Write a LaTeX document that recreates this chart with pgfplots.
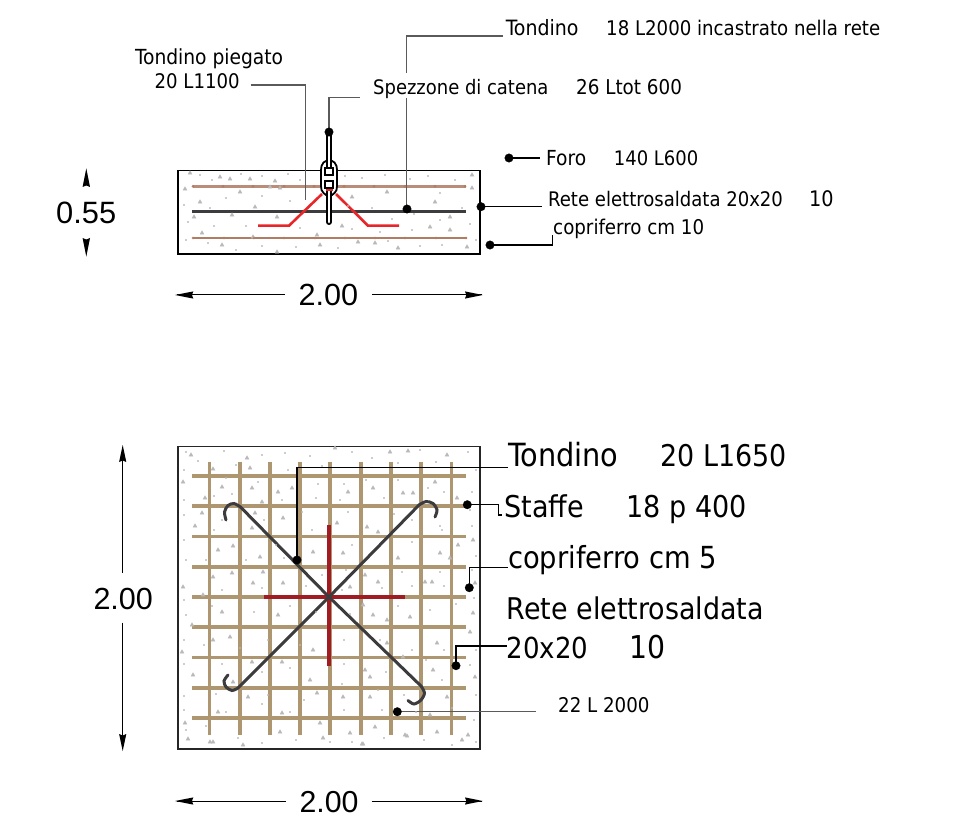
\documentclass[border=0pt]{standalone}
\usepackage{graphicx}
\usepackage{fontspec}
\setmainfont{DejaVu Sans Condensed}
\newfontfamily\dimfont{Liberation Sans}
\usepackage{pgfplots}
\pgfplotsset{compat=1.18}
\definecolor{meshtan}{RGB}{174,150,112}
\definecolor{darkbar}{RGB}{60,60,62}
\definecolor{darkred}{RGB}{160,28,34}
\definecolor{brightred}{RGB}{232,38,42}
\definecolor{pinkbar}{RGB}{186,140,122}
\definecolor{pinkbarb}{RGB}{176,124,100}
\definecolor{specklecol}{RGB}{185,185,185}
\definecolor{lead}{RGB}{90,90,90}

% label: x, baseline y, width in px, text
\newcommand{\lab}[4]{\node[anchor=base west,inner sep=0pt,text=black] at (axis cs:#1,#2) {\resizebox{#3pt}{!}{#4}};}
\newcommand{\dimlab}[4]{\node[anchor=base west,inner sep=0pt,text=black] at (axis cs:#1,#2) {\resizebox{#3pt}{!}{\dimfont #4}};}

\pgfplotstableread{
x y
190 173
220 177
230 179
250 179
275 181
240 192
270 187
280 188
185 189
200 202
255 207
232 215
194 217
352 197
387 192
435 202
450 217
472 175
472 188
277 217
202 233
222 245
253 237
317 235
358 242
375 243
398 248
450 230
467 247
277 252
342 226
320 245
430 227
}\trianglestop

\pgfplotstableread{
x y
200 175
212 180
241 174
262 176
288 174
300 180
345 176
362 178
385 175
410 179
428 176
455 180
184 205
210 208
226 198
262 196
290 201
348 206
372 208
392 219
414 214
440 193
462 208
188 222
214 226
246 226
300 228
352 229
380 232
412 230
440 220
470 224
186 240
208 243
236 250
262 246
296 247
338 248
388 241
420 246
442 245
476 240
}\dotstop

\pgfplotstableread{
x y
191 455
213 469
247 458
250 468
183 482
222 487
252 488
278 492
205 498
262 502
292 488
202 513
255 513
195 526
252 528
283 518
218 550
233 546
260 557
263 572
232 573
313 552
183 587
213 577
203 595
253 583
283 583
335 448
408 451
390 452
447 455
373 488
348 492
403 493
413 493
435 482
457 498
337 523
378 532
367 527
458 545
473 540
343 553
398 558
440 553
365 575
378 582
350 587
425 582
432 582
475 583
450 558
192 625
222 612
230 637
213 640
278 615
282 662
313 650
193 675
233 682
252 662
310 680
182 652
248 697
317 693
218 712
185 723
282 713
320 723
210 742
280 732
323 738
243 745
363 605
387 620
410 617
473 613
470 632
373 615
387 643
437 643
403 657
433 670
365 670
370 677
475 677
343 697
370 697
447 697
430 715
375 727
350 733
437 732
468 735
362 744
405 735
188 739
213 742
363 744
407 736
462 740
}\trianglesbot

\pgfplotstableread{
x y
186 452
198 461
224 451
236 465
262 455
285 453
310 456
322 466
352 452
372 458
398 463
420 450
436 462
468 452
476 470
184 470
226 478
258 482
288 470
318 484
344 484
366 480
398 480
428 488
472 492
184 500
214 496
232 494
282 500
316 498
340 500
384 498
444 492
470 510
184 515
222 520
264 520
302 512
348 512
394 514
412 520
440 526
472 526
184 540
214 530
276 545
312 530
352 545
412 542
442 530
476 556
186 560
206 560
246 560
284 558
322 575
346 570
402 572
440 572
472 570
184 600
222 590
262 588
306 586
342 590
382 588
412 586
444 586
474 598
186 615
212 606
254 612
290 606
316 612
350 614
398 606
430 610
456 604
184 640
204 645
240 648
268 640
300 645
344 640
380 640
412 650
444 650
476 650
184 664
222 664
262 672
290 668
344 664
386 672
426 660
470 665
184 696
216 694
268 695
304 700
342 684
378 690
404 695
442 680
476 695
184 710
226 712
262 704
290 712
344 710
382 710
416 712
452 708
474 720
186 730
206 726
238 738
262 743
296 740
330 742
352 742
384 738
424 740
452 745
476 742
}\dotsbot

\begin{document}
\begin{tikzpicture}
\path[use as bounding box] (0,0) rectangle (968pt,826pt);
\begin{axis}[
    at={(0,0)},
    anchor=south west,
    scale only axis,
    width=968pt,
    height=826pt,
    xmin=0, xmax=968,
    ymin=0, ymax=826,
    y dir=reverse,
    hide axis,
    clip=false,
    ]
% concrete speckle
\addplot[only marks,color=specklecol,mark=triangle*,mark size=2.4pt,mark options={draw=specklecol,fill=specklecol,line width=0.2pt}] table {\trianglestop};
\addplot[only marks,color=specklecol,mark=*,mark size=0.8pt,mark options={draw=specklecol,fill=specklecol,line width=0.2pt}] table {\dotstop};
\addplot[only marks,color=specklecol,mark=triangle*,mark size=2.4pt,mark options={draw=specklecol,fill=specklecol,line width=0.2pt}] table {\trianglesbot};
\addplot[only marks,color=specklecol,mark=*,mark size=0.8pt,mark options={draw=specklecol,fill=specklecol,line width=0.2pt}] table {\dotsbot};

% section: bars
\addplot[pinkbar,line width=3pt] coordinates {(192.5,186.3)(466,186.3)};
\addplot[only marks,color=pinkbarb,mark=*,mark size=1.3pt,mark options={draw=pinkbarb,fill=pinkbarb,line width=0.2pt}] coordinates {(193,186.3)(223,186.3)(253,186.3)(284,186.3)(314,186.3)(344,186.3)(374,186.3)(405,186.3)(435,186.3)(465,186.3)};
\addplot[darkbar,line width=3pt] coordinates {(192,212)(466,212)};
\addplot[pinkbarb,line width=2.2pt] coordinates {(193,238)(467,238)};
\addplot[only marks,color=pinkbarb,mark=*,mark size=1.2pt,mark options={draw=pinkbarb,fill=pinkbarb,line width=0.2pt}] coordinates {(193,238)(224,238)(254,238)(284,238)(315,238)(345,238)(375,238)(405,238)(436,238)(466,238)};
\addplot[brightred,line width=2.6pt] coordinates {(258,225.7)(289,225.7)(322,194)};
\addplot[brightred,line width=2.6pt] coordinates {(336,194)(368,225.7)(399,225.7)};
% section outline
\addplot[black,line width=1.6pt] coordinates {(178,170.7)(480,170.7)(480,254)(178,254)} --cycle;

% chain
\addplot[draw=black,fill=white,line width=1.8pt] coordinates {(321,170)(321.5,166)(323.5,162.5)(326,161)(329,160.5)(332,161)(334.5,162.5)(336.5,166)(337,170)(337,186)(336.5,190)(334.5,193)(332,195)(326,195)(323.5,193)(321.5,190)(321,186)} --cycle;
\addplot[black,line width=6pt,line cap=round] coordinates {(329,134)(329,168)};
\addplot[white,line width=2.6pt,line cap=round] coordinates {(329,134)(329,168)};
\addplot[draw=black,fill=white,line width=1.5pt] coordinates {(325,168)(333,168)(333,175)(325,175)} --cycle;
\addplot[draw=black,fill=white,line width=1.5pt] coordinates {(325,181)(333,181)(333,188)(325,188)} --cycle;
\addplot[black,line width=6pt,line cap=round] coordinates {(329,190)(329,222)};
\addplot[white,line width=2.6pt,line cap=round] coordinates {(329,190)(329,222)};
\addplot[brightred,line width=1.6pt] coordinates {(325.5,190)(332.5,190)};

% plan: mesh
\foreach \yy in {475.7,506,536.3,566.7,597,627,657.3,687.7,718} {
  \edef\temp{\noexpand\addplot[meshtan,line width=3.6pt] coordinates {(192.3,\yy)(465.7,\yy)};}
  \temp
}
\foreach \xx in {209.3,240,270,300,330,360.7,391,421,451.3} {
  \edef\temp{\noexpand\addplot[meshtan,line width=3.6pt] coordinates {(\xx,461.7)(\xx,735)};}
  \temp
}
% plan: red bars
\addplot[darkred,line width=3.6pt] coordinates {(329,525)(329,665.7)};
\addplot[darkred,line width=3.6pt] coordinates {(264.3,597)(405,597)};
% plan: hooked diagonals
\addplot[darkbar,line width=3pt,line cap=round] coordinates {(240.5,507)(329,597)(421,686)};
\addplot[darkbar,line width=3pt,line cap=round] coordinates {(419,505)(329,597)(238,688)};
\addplot[darkbar,line width=3pt,line cap=round,smooth] coordinates {(226,520)(224.5,512)(228,505.5)(234,503.5)(240.5,507)};
\addplot[darkbar,line width=3pt,line cap=round,smooth] coordinates {(419,505)(426,501.5)(433,503.5)(437,510)(435,517)};
\addplot[darkbar,line width=3pt,line cap=round,smooth] coordinates {(238,688)(232,690.5)(226,687)(224,681)(228,675)};
\addplot[darkbar,line width=3pt,line cap=round,smooth] coordinates {(421,686)(424.5,693)(421,700)(414,704)(408,700.5)};
% plan outline
\addplot[black!85,line width=1.5pt] coordinates {(178,446.7)(480,446.7)(480,749)(178,749)} --cycle;

% leaders
\addplot[lead,line width=1.3pt] coordinates {(250.7,85)(305.3,85)(305.3,200)};
\addplot[lead,line width=1.3pt] coordinates {(329,132)(329,97.3)(360,97.3)};
\addplot[lead,line width=1.3pt] coordinates {(503,36)(406.7,36)(406.7,73)};
\addplot[lead,line width=1.3pt] coordinates {(406.7,98)(406.7,209)};
\addplot[black,line width=1.1pt] coordinates {(509,158)(540,158)};
\addplot[black,line width=1.1pt] coordinates {(481,206.7)(541.7,206.7)};
\addplot[black,line width=1.1pt] coordinates {(490,245)(552.3,245)(552.3,235)};
\addplot[black,line width=1.1pt] coordinates {(297,560)(297,467.3)(508,467.3)};
\addplot[black,line width=1.1pt] coordinates {(467.3,504.7)(498.3,504.7)(498.3,515)(502,515)};
\addplot[black,line width=1.1pt] coordinates {(469.3,587.7)(469.3,567.7)(508,567.7)};
\addplot[black,line width=1.1pt] coordinates {(456,665.7)(456,646)(506.7,646)};
\addplot[lead,line width=1.3pt] coordinates {(397.3,711.7)(536,711.7)};
\addplot[only marks,color=black,mark=*,mark size=4.3pt,mark options={draw=black,fill=black,line width=0.2pt}] coordinates {(329,132)(407,209)(509,158)(481,206.7)(490,245)(297,560)(467.3,504.7)(469.3,587.7)(456,665.7)(397.3,711.7)};

% dimension lines
\addplot[black,line width=1pt] coordinates {(177,295)(285,295)};
\addplot[black,line width=1pt] coordinates {(372,295)(482,295)};
\addplot[black,line width=1pt] coordinates {(177,801)(286,801)};
\addplot[black,line width=1pt] coordinates {(371.7,801)(482,801)};
\addplot[black,line width=1pt] coordinates {(122.7,447)(122.7,573)};
\addplot[black,line width=1pt] coordinates {(122.7,622.7)(122.7,749)};
% arrowheads
\addplot[fill=black,draw=none] coordinates {(86.3,168.3)(90,187)(86.3,185.5)(82.6,187)} --cycle;
\addplot[fill=black,draw=none] coordinates {(86.3,256.7)(90,238)(86.3,239.5)(82.6,238)} --cycle;
\addplot[fill=black,draw=none] coordinates {(175,295)(193.3,291.4)(192,295)(193.3,298.6)} --cycle;
\addplot[fill=black,draw=none] coordinates {(482.7,295)(465,291.4)(466.3,295)(465,298.6)} --cycle;
\addplot[fill=black,draw=none] coordinates {(175,801)(193.3,797.4)(192,801)(193.3,804.6)} --cycle;
\addplot[fill=black,draw=none] coordinates {(482.7,801)(465,797.4)(466.3,801)(465,804.6)} --cycle;
\addplot[fill=black,draw=none] coordinates {(122.7,445)(126.3,462)(122.7,460.5)(119.1,462)} --cycle;
\addplot[fill=black,draw=none] coordinates {(122.7,751)(126.3,734)(122.7,735.5)(119.1,734)} --cycle;

% labels, upper drawing
\lab{505.7}{36}{72.6}{Tondino}
\lab{606}{36}{274}{18 L2000 incastrato nella rete}
\lab{135}{65}{148}{Tondino piegato}
\lab{154.5}{89}{85}{20 L1100}
\lab{373}{95}{175.3}{Spezzone di catena}
\lab{576}{95}{105.7}{26 Ltot 600}
\lab{546}{166}{40}{Foro}
\lab{613.7}{166}{84.3}{140 L600}
\lab{548}{206.7}{234.7}{Rete elettrosaldata 20x20}
\lab{809}{206.7}{24.5}{10}
\lab{553}{235}{151}{copriferro cm 10}
% labels, lower drawing
\lab{508.3}{466.7}{110}{Tondino}
\lab{660.5}{466.7}{126.2}{20 L1650}
\lab{504.5}{517.7}{79.5}{Staffe}
\lab{626.5}{517.7}{120.2}{18 p 400}
\lab{508}{568}{208.7}{copriferro cm 5}
\lab{506.7}{619}{256.6}{Rete elettrosaldata}
\lab{506.7}{658}{81.6}{20x20}
\lab{629}{658}{36}{10}
\lab{558}{712.6}{91.3}{22 L 2000}
% dimensions
\dimlab{56}{224}{60}{0.55}
\dimlab{298.5}{306}{59.5}{2.00}
\dimlab{299.3}{812.7}{59}{2.00}
\dimlab{93.3}{609}{59.4}{2.00}
\end{axis}
\end{tikzpicture}
\end{document}
